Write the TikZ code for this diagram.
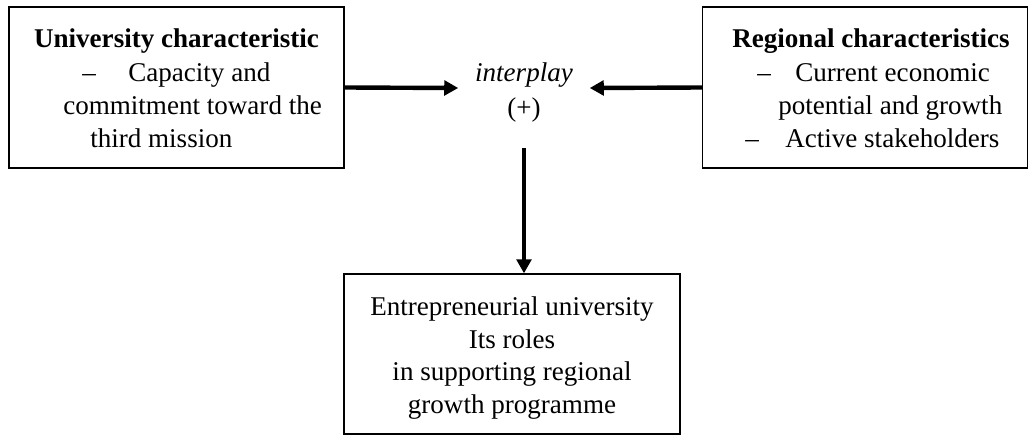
\documentclass[tikz,border=0pt]{standalone}
\usepackage{fontspec}
\setmainfont{Liberation Serif}
\usetikzlibrary{arrows.meta}
\begin{document}
\begin{tikzpicture}[x=0.75pt,y=-0.75pt,
  box/.style={draw, line width=1pt, inner sep=0pt},
  txt/.style={inner sep=0pt, font=\fontsize{20.3}{24}\selectfont},
  flow/.style={line width=3.3pt, -{Triangle[length=10.5pt,width=11pt]}}]
\useasboundingbox (0,0) rectangle (1029,435);
% boxes
\node[box, minimum width=251.25pt, minimum height=120.75pt] (ubox) at (176.5,87.5) {};
\node[box, minimum width=243.75pt, minimum height=120.75pt] (rbox) at (865.25,87.5) {};
\node[box, minimum width=252pt, minimum height=120pt] (ebox) at (512,354) {};
\node[inner sep=0pt, minimum width=98.25pt, minimum height=90pt] (ip) at (524,88) {};
% left box text
\node[txt, anchor=base] (u1) at (176.5,48) {\textbf{University characteristic}};
\node[txt, anchor=base west] (u2d) at (82,81.5) {–};
\node[txt, anchor=base west] (u2) at (128,81.5) {Capacity and};
\node[txt, anchor=base west] (u3) at (63,114.5) {commitment toward the};
\node[txt, anchor=base west] (u4) at (90,147.5) {third mission};
% right box text
\node[txt, anchor=base] (r1) at (871,48) {\textbf{Regional characteristics}};
\node[txt, anchor=base west] (r2d) at (757,81.5) {–};
\node[txt, anchor=base west] (r2) at (795,81.5) {Current economic};
\node[txt, anchor=base west] (r3) at (778,114.5) {potential and growth};
\node[txt, anchor=base west] (r4d) at (745,147.5) {–};
\node[txt, anchor=base west] (r4) at (785,147.5) {Active stakeholders};
% interplay
\node[txt, anchor=base] (i1) at (524,82) {\textit{interplay}};
\node[txt, anchor=base] (i2) at (524,117) {(+)};
% bottom box text
\node[txt, anchor=base] (e1) at (512,315) {Entrepreneurial university};
\node[txt, anchor=base] (e2) at (512,348) {Its roles};
\node[txt, anchor=base] (e3) at (512,380.5) {in supporting regional};
\node[txt, anchor=base] (e4) at (512,413) {growth programme};
% arrows
\draw[flow] (ubox.east) -- (ip.west);
\draw[flow] (rbox.west) -- (ip.east);
\draw[flow] (ip.south) -- (ip.south |- ebox.north);
\end{tikzpicture}
\end{document}
